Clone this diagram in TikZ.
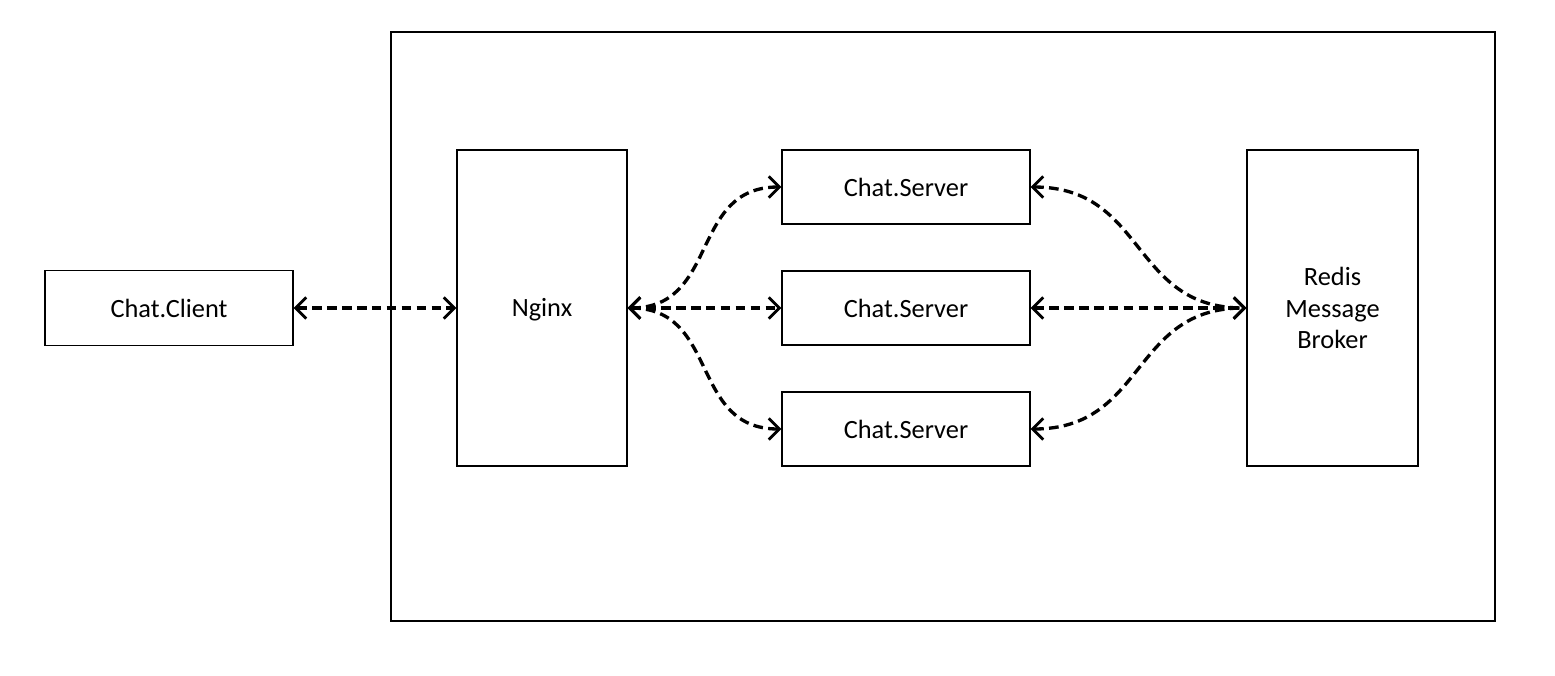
\documentclass[tikz,border=0pt]{standalone}
\usepackage{fontspec}
\setmainfont{Carlito}
\usepackage{tikz}
\usetikzlibrary{arrows.meta}

\begin{document}
\begin{tikzpicture}[
        box/.style={draw, rectangle, line width=0.8pt, align=center, font=\fontsize{15}{18}\selectfont},
        link/.style={{Straight Barb[length=6pt, width=12pt, line width=1.6pt]}-{Straight Barb[length=6pt, width=12pt, line width=1.6pt]}, line width=1.9pt, dash pattern=on 5.5pt off 3pt}
    ]
        \useasboundingbox (0,0) rectangle (31.1,-13.5);

        \node[draw, rectangle, line width=0.8pt, minimum width=22.08cm, minimum height=11.78cm] (SYS) at (18.86,-6.53) {};

        \node[box, minimum width=4.96cm, minimum height=1.5cm] (CLIENT) at (3.38,-6.16) {Chat.Client};
        \node[box, right of=CLIENT, node distance=7.46cm, minimum width=3.4cm, minimum height=6.32cm, text depth=0.2ex] (NGINX) {Nginx};

        \node[box, right of=NGINX, node distance=7.28cm, minimum width=4.96cm, minimum height=1.48cm] (SRV2) {Chat.Server};
        \node[box, above of=SRV2, node distance=2.42cm, minimum width=4.96cm, minimum height=1.48cm] (SRV1) {Chat.Server};
        \node[box, below of=SRV2, node distance=2.42cm, minimum width=4.96cm, minimum height=1.48cm] (SRV3) {Chat.Server};

        \node[box, right of=SRV2, node distance=8.53cm, minimum width=3.42cm, minimum height=6.32cm] (REDIS) {Redis\\Message\\Broker};

        \draw[link] (CLIENT.east) -- (NGINX.west);

        \draw[link] (NGINX.east) to[out=0, in=180, looseness=1.2] (SRV1.west);
        \draw[link] (NGINX.east) -- (SRV2.west);
        \draw[link] (NGINX.east) to[out=0, in=180, looseness=1.2] (SRV3.west);

        \draw[link] (SRV1.east) to[out=0, in=180, looseness=1.2] (REDIS.west);
        \draw[link] (SRV2.east) -- (REDIS.west);
        \draw[link] (SRV3.east) to[out=0, in=180, looseness=1.2] (REDIS.west);
    \end{tikzpicture}
\end{document}
